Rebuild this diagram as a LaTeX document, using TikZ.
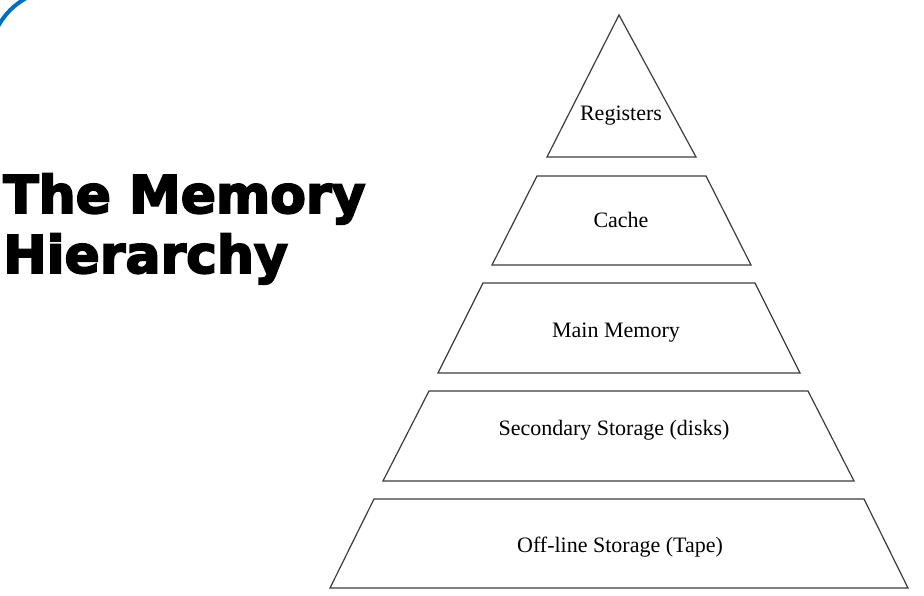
\documentclass[tikz,border=0pt]{standalone}
\usepackage{fontspec}
\setmainfont{Liberation Serif}
\newfontfamily\titlefont[FakeBold=3.5]{DejaVu Sans Bold}
\definecolor{arcblue}{RGB}{0,112,192}
\definecolor{edge}{RGB}{60,60,60}
\begin{document}
\begin{tikzpicture}[x=1pt,y=-1pt,
  tier/.style={draw=edge, line width=1.2pt, line join=miter},
  lbl/.style={font=\fontsize{22}{24}\selectfont, inner sep=0pt, anchor=base},
  ttl/.style={font=\titlefont\fontsize{52}{56}\selectfont, inner sep=0pt, anchor=base west, xscale=1.0}]
\useasboundingbox (0,0) rectangle (924,596);
\clip (0,0) rectangle (924,596);
% corner arc
\draw[arcblue, line width=4pt] (60,60) ++(195:70.5) arc[start angle=195, end angle=255, radius=70.5];
% title
\node[ttl] (t1) at (3,213) {The Memory};
\node[ttl] (t2) at (3,273) {Hierarchy};
% pyramid
\draw[tier] (619,15) -- (696,157) -- (547,157) -- cycle;
\draw[tier] (537,176) -- (706,176) -- (751,265) -- (492,265) -- cycle;
\draw[tier] (483,283) -- (755,283) -- (800,373) -- (438,373) -- cycle;
\draw[tier] (429,391) -- (808,391) -- (854,481) -- (383,481) -- cycle;
\draw[tier] (374,499) -- (864,499) -- (908,588) -- (330,588) -- cycle;
% labels
\node[lbl] (reg) at (621,121) {Registers};
\node[lbl] (cache) at (621,228) {Cache};
\node[lbl] (mm) at (616,337) {Main Memory};
\node[lbl] (sec) at (614,435) {Secondary Storage (disks)};
\node[lbl] (off) at (620,552) {Off-line Storage (Tape)};
\end{tikzpicture}
\end{document}
